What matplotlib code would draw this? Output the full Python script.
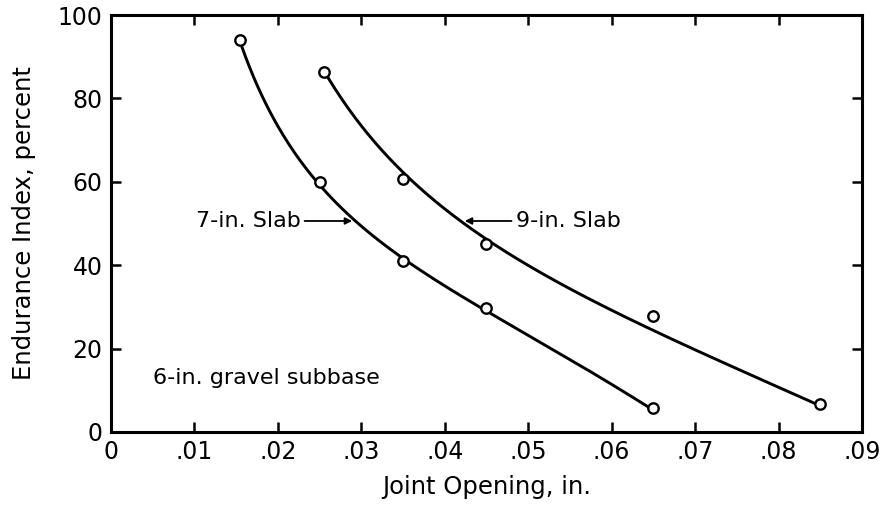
import numpy as np
import matplotlib
matplotlib.use("Agg")
import matplotlib.pyplot as plt

# observed data points
x7 = [0.0155, 0.025, 0.035, 0.045, 0.065]
y7 = [94.0, 60.0, 41.0, 29.7, 5.8]
x9 = [0.0255, 0.035, 0.045, 0.065, 0.085]
y9 = [86.4, 60.6, 45.1, 27.7, 6.6]

# hand-drawn fitted curves
c7_x = [0.0156, 0.0171, 0.0191, 0.0215, 0.0243, 0.0263, 0.0290, 0.0338,
        0.040, 0.045, 0.050, 0.055, 0.060, 0.0645]
c7_y = [93.5, 84.4, 76.4, 68.4, 61.2, 56.4, 50.4, 44.3,
        35.0, 29.3, 22.9, 16.9, 11.2, 6.3]
c9_x = [0.0257, 0.0283, 0.0322, 0.0362, 0.0402, 0.045, 0.050, 0.055,
        0.060, 0.065, 0.070, 0.075, 0.080, 0.0845]
c9_y = [86.0, 78.0, 68.4, 59.8, 53.0, 46.0, 40.0, 34.8,
        29.4, 24.3, 19.5, 14.9, 10.6, 7.0]

xticks = [0, .01, .02, .03, .04, .05, .06, .07, .08, .09]
xticklabels = ["0", ".01", ".02", ".03", ".04", ".05", ".06", ".07", ".08", ".09"]
yticks = [0, 20, 40, 60, 80, 100]
yticklabels = ["0", "20", "40", "60", "80", "100"]


def smooth_fit(xk, yk, n=300):
    """Least-squares fit y = a + b*x + c*x^2 + d/x to the traced curve points."""
    xk = np.asarray(xk, float)
    yk = np.asarray(yk, float)
    A = np.column_stack([np.ones_like(xk), xk, xk**2, 1.0 / xk])
    coef, *_ = np.linalg.lstsq(A, yk, rcond=None)
    xs = np.linspace(xk[0], xk[-1], n)
    ys = coef[0] + coef[1] * xs + coef[2] * xs**2 + coef[3] / xs
    return xs, ys


plt.rcParams['font.family'] = ['DejaVu Sans']
fig = plt.figure(figsize=(8.83, 5.12), dpi=100)
ax = fig.add_axes([0.1257, 0.1563, 0.8505, 0.8144])

for cx, cy in [(c7_x, c7_y), (c9_x, c9_y)]:
    xs, ys = smooth_fit(cx, cy)
    ax.plot(xs, ys, color='black', lw=2.1, zorder=2, solid_capstyle='round')

for xx, yy in [(x7, y7), (x9, y9)]:
    ax.plot(xx, yy, linestyle='none', marker='o', markersize=7.5,
            markerfacecolor='white', markeredgecolor='black',
            markeredgewidth=1.7, zorder=3)

ax.set_xlim(0, 0.09)
ax.set_ylim(0, 100)
ax.set_xticks(xticks)
ax.set_xticklabels(xticklabels)
ax.set_yticks(yticks)
ax.set_yticklabels(yticklabels)
ax.tick_params(direction='in', length=7, width=1.8, labelsize=17,
               top=True, right=True, pad=6, colors='black')
for s in ax.spines.values():
    s.set_linewidth(2.2)

ax.set_xlabel("Joint Opening, in.", fontsize=17.5, labelpad=8)
ax.set_ylabel("Endurance Index, percent", fontsize=17.5, labelpad=16)

ax.annotate("7-in. Slab", xy=(0.0289, 50.6), xytext=(0.0227, 50.6),
            fontsize=16, ha='right', va='center',
            arrowprops=dict(arrowstyle='-|>', color='black', lw=1.3,
                            mutation_scale=10, shrinkA=1, shrinkB=0))
ax.annotate("9-in. Slab", xy=(0.0424, 50.6), xytext=(0.0485, 50.6),
            fontsize=16, ha='left', va='center',
            arrowprops=dict(arrowstyle='-|>', color='black', lw=1.3,
                            mutation_scale=10, shrinkA=1, shrinkB=0))
ax.text(0.005, 13, "6-in. gravel subbase", fontsize=16, ha='left', va='center')

fig.savefig("out.png", dpi=100)
